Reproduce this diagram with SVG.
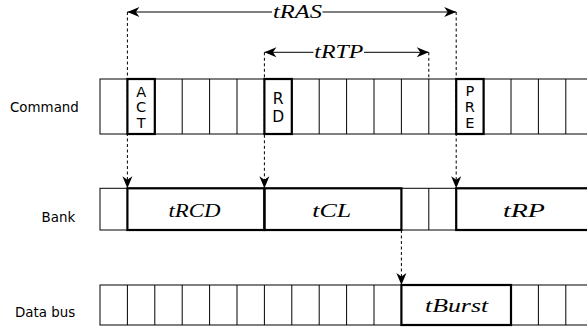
<svg xmlns="http://www.w3.org/2000/svg" width="587" height="332" viewBox="0 0 587 332">
<style>
.bg{fill:#fff}
.thin{fill:none;stroke:#000;stroke-width:1}
.bold{fill:none;stroke:#000;stroke-width:2.2}
.lbl{font-family:"DejaVu Sans",sans-serif;font-size:13.4px;fill:#000}
.cell{font-family:"DejaVu Sans",sans-serif;font-size:14.5px;fill:#000;text-anchor:middle}
.math{font-family:"Liberation Serif","Times New Roman",serif;font-style:italic;font-size:19.5px;fill:#000}
.arr{fill:none;stroke:#000;stroke-width:1;marker-end:url(#ah)}
.dash{fill:none;stroke:#000;stroke-width:1;stroke-dasharray:3 2.5}
.dasharr{fill:none;stroke:#000;stroke-width:1;stroke-dasharray:3 2.5;marker-end:url(#ah)}
</style>
<defs>
<marker id="ah" viewBox="-13 -6 14 12" refX="0" refY="0" markerWidth="14" markerHeight="12" markerUnits="userSpaceOnUse" orient="auto">
<path d="M0,0 L-12,-5 L-8.5,0 L-12,5 Z" fill="#000"/>
</marker>
</defs>
<rect class="bg" x="0" y="0" width="587" height="332"/>

<g id="label-command"><text class="lbl" x="10" y="111.5">Command</text></g>
<g id="label-bank"><text class="lbl" x="41.5" y="221.5">Bank</text></g>
<g id="label-databus"><text class="lbl" x="15" y="316.5">Data bus</text></g>

<g id="command-row">
<rect class="thin" x="100" y="79" width="493.2" height="55"/>
<path class="thin" d="M154.8,79V134M182.2,79V134M209.6,79V134M237,79V134M291.8,79V134M319.2,79V134M346.6,79V134M374,79V134M401.4,79V134M428.8,79V134M483.6,79V134M511,79V134M538.4,79V134M565.8,79V134"/>
</g>
<g id="cmd-act">
<rect class="bold" x="127.4" y="79" width="27.4" height="55"/>
<text class="cell" x="141.1" y="96.5">A</text>
<text class="cell" x="141.1" y="112.3">C</text>
<text class="cell" x="141.1" y="128">T</text>
</g>
<g id="cmd-rd">
<rect class="bold" x="264.4" y="79" width="27.4" height="55"/>
<text class="cell" x="278.1" y="103.8" style="font-size:15.5px">R</text>
<text class="cell" x="278.1" y="121.7" style="font-size:15.5px">D</text>
</g>
<g id="cmd-pre">
<rect class="bold" x="456.2" y="79" width="27.4" height="55"/>
<text class="cell" x="469.9" y="95.5">P</text>
<text class="cell" x="469.9" y="111.5">R</text>
<text class="cell" x="469.9" y="127.5">E</text>
</g>

<g id="bank-row">
<rect class="thin" x="100" y="188.3" width="493.2" height="41.7"/>
<path class="thin" d="M428.8,188.3V230"/>
</g>
<g id="bank-trcd">
<rect class="bold" x="127.4" y="188.3" width="137" height="41.7"/>
<text class="math" x="194.5" y="216.7" text-anchor="middle" textLength="52" lengthAdjust="spacingAndGlyphs">tRCD</text>
</g>
<g id="bank-tcl">
<rect class="bold" x="264.4" y="188.3" width="137" height="41.7"/>
<text class="math" x="331.7" y="217" text-anchor="middle" textLength="39" lengthAdjust="spacingAndGlyphs">tCL</text>
</g>
<g id="bank-trp">
<rect class="bold" x="456.2" y="188.3" width="137" height="41.7"/>
<text class="math" x="523.9" y="217" text-anchor="middle" textLength="42" lengthAdjust="spacingAndGlyphs">tRP</text>
</g>

<g id="databus-row">
<rect class="thin" x="100" y="285" width="493.2" height="40"/>
<path class="thin" d="M127.4,285V325M154.8,285V325M182.2,285V325M209.6,285V325M237,285V325M264.4,285V325M291.8,285V325M319.2,285V325M346.6,285V325M374,285V325M538.4,285V325M565.8,285V325"/>
</g>
<g id="databus-tburst">
<rect class="bold" x="401.4" y="285" width="109.6" height="40"/>
<text class="math" x="456.6" y="311.7" text-anchor="middle" textLength="63" lengthAdjust="spacingAndGlyphs">tBurst</text>
</g>

<g id="connectors">
<line class="arr" x1="272" y1="12" x2="127.4" y2="12"/>
<line class="arr" x1="322.5" y1="12" x2="456.2" y2="12"/>
<text class="math" x="297.4" y="18.3" text-anchor="middle" textLength="49" lengthAdjust="spacingAndGlyphs">tRAS</text>
<line class="arr" x1="313.5" y1="52.3" x2="264.4" y2="52.3"/>
<line class="arr" x1="364" y1="52.3" x2="428.8" y2="52.3"/>
<text class="math" x="338.8" y="58.3" text-anchor="middle" textLength="49" lengthAdjust="spacingAndGlyphs">tRTP</text>
<line class="dasharr" x1="127.4" y1="12" x2="127.4" y2="188.3"/>
<line class="dasharr" x1="264.4" y1="52.3" x2="264.4" y2="188.3"/>
<line class="dasharr" x1="456.2" y1="12" x2="456.2" y2="188.3"/>
<line class="dash" x1="428.8" y1="52.3" x2="428.8" y2="79"/>
<line class="dasharr" x1="401.4" y1="230" x2="401.4" y2="285"/>
</g>
</svg>
